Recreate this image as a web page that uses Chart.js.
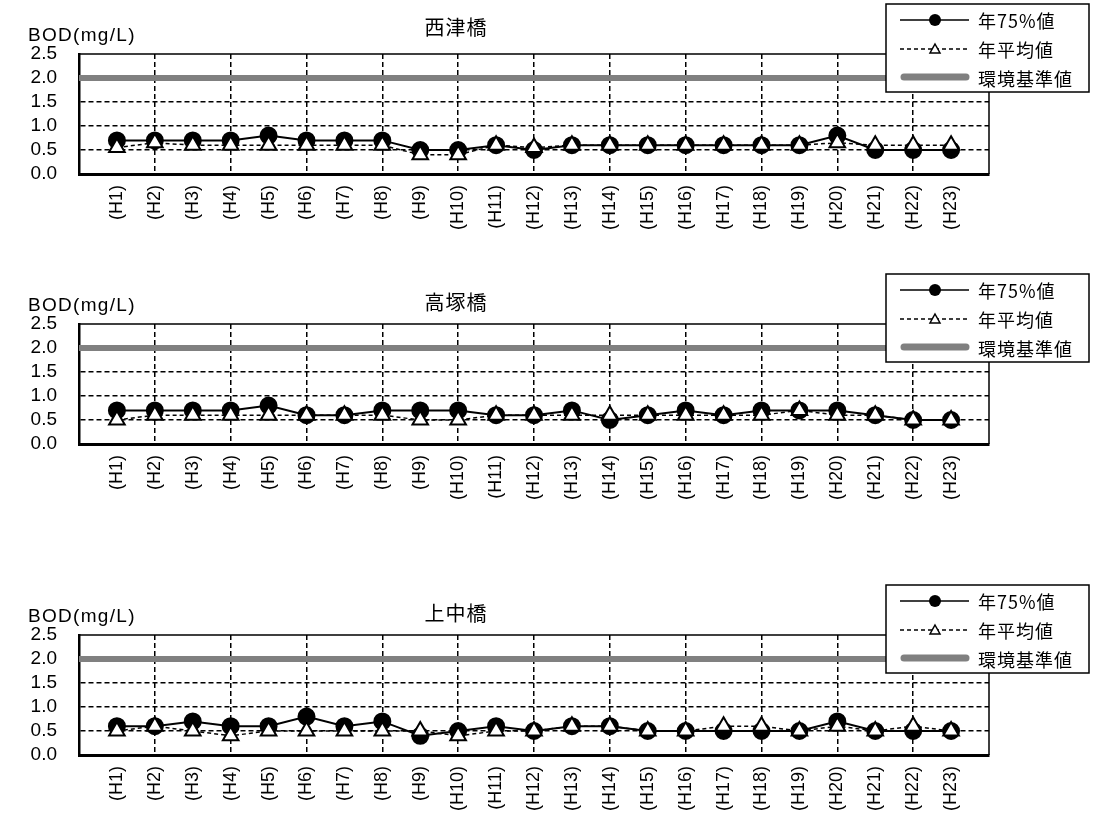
<!DOCTYPE html>
<html>
<head>
<meta charset="utf-8">
<script src="https://cdn.jsdelivr.net/npm/chart.js@4.4.0/dist/chart.umd.min.js"></script>
<style>
  body { margin: 0; background: #fff; }
  .box { position: absolute; left: 0; width: 1100px; height: 260px; }
</style>
</head>
<body>
<div class="box" style="top:0px"><canvas id="c1"></canvas></div>
<div class="box" style="top:270px"><canvas id="c2"></canvas></div>
<div class="box" style="top:581px"><canvas id="c3"></canvas></div>
<script>
// 年度 (H1〜H23)
const nendo = ['H1','H2','H3','H4','H5','H6','H7','H8','H9','H10','H11','H12',
               'H13','H14','H15','H16','H17','H18','H19','H20','H21','H22','H23']

// 西津橋
const nishizu75 = [0.7,0.7,0.7,0.7,0.8,0.7,0.7,0.7,0.5,0.5,0.6,0.5,0.6,0.6,0.6,0.6,0.6,0.6,0.6,0.8,0.5,0.5,0.5]
const nishizuAvg = [0.55,0.65,0.6,0.6,0.6,0.6,0.6,0.6,0.4,0.4,0.6,0.55,0.6,0.6,0.6,0.6,0.6,0.6,0.6,0.65,0.6,0.6,0.6]

// 高塚橋
const takatsuka75 = [0.7,0.7,0.7,0.7,0.8,0.6,0.6,0.7,0.7,0.7,0.6,0.6,0.7,0.5,0.6,0.7,0.6,0.7,0.7,0.7,0.6,0.5,0.5]
const takatsukaAvg = [0.5,0.6,0.6,0.6,0.6,0.6,0.6,0.6,0.5,0.5,0.6,0.6,0.6,0.6,0.6,0.6,0.6,0.6,0.7,0.6,0.6,0.5,0.5]

// 上中橋
const kaminaka75 = [0.6,0.6,0.7,0.6,0.6,0.8,0.6,0.7,0.4,0.5,0.6,0.5,0.6,0.6,0.5,0.5,0.5,0.5,0.5,0.7,0.5,0.5,0.5]
const kaminakaAvg = [0.5,0.6,0.5,0.4,0.5,0.5,0.5,0.5,0.5,0.4,0.5,0.5,0.6,0.6,0.5,0.5,0.6,0.6,0.5,0.6,0.5,0.6,0.5]

// 環境基準値
const kijun = 2.0

const yTicks = [0.0, 0.5, 1.0, 1.5, 2.0, 2.5]

const FONT_EN = "'Liberation Sans', Arial, sans-serif"
const FONT_JP = "'Noto Sans CJK JP', sans-serif"

//タイトル・軸ラベル・凡例を描く
const decor = {
    id: 'decor',
    afterDatasetsDraw(chart) {
        const { ctx, chartArea: a } = chart
        ctx.save()
        ctx.strokeStyle = '#000'
        ctx.lineWidth = 1.5
        ctx.beginPath()
        ctx.moveTo(a.left, a.top)
        ctx.lineTo(a.right, a.top)
        ctx.lineTo(a.right, a.bottom)
        ctx.stroke()
        ctx.restore()
    },
    afterDraw(chart, args, opts) {
        const ctx = chart.ctx
        ctx.save()
        ctx.fillStyle = '#000'
        ctx.textBaseline = 'middle'

        ctx.font = '20px ' + FONT_JP
        ctx.letterSpacing = '1px'
        ctx.textAlign = 'center'
        ctx.fillText(opts.title, 456, opts.titleY)

        ctx.font = '19px ' + FONT_EN
        ctx.letterSpacing = '1.3px'
        ctx.textAlign = 'left'
        ctx.fillText('BOD(mg/L)', 28, 36)

        // 凡例
        const lx = 886, ly = 4, lw = 203, lh = 88
        ctx.fillStyle = '#fff'
        ctx.fillRect(lx, ly, lw, lh)
        ctx.strokeStyle = '#000'
        ctx.lineWidth = 1.5
        ctx.strokeRect(lx, ly, lw, lh)

        const rows = [20, 49, 77]
        // 年75%値
        ctx.lineWidth = 1.5
        ctx.beginPath()
        ctx.moveTo(900, rows[0]); ctx.lineTo(969, rows[0])
        ctx.stroke()
        ctx.fillStyle = '#000'
        ctx.beginPath()
        ctx.arc(935, rows[0], 6, 0, Math.PI * 2)
        ctx.fill()
        // 年平均値
        ctx.setLineDash([4, 3])
        ctx.beginPath()
        ctx.moveTo(900, rows[1]); ctx.lineTo(969, rows[1])
        ctx.stroke()
        ctx.setLineDash([])
        ctx.fillStyle = '#fff'
        ctx.beginPath()
        ctx.moveTo(935, rows[1] - 5)
        ctx.lineTo(940, rows[1] + 4)
        ctx.lineTo(930, rows[1] + 4)
        ctx.closePath()
        ctx.fill()
        ctx.stroke()
        // 環境基準値
        ctx.strokeStyle = '#808080'
        ctx.lineWidth = 7
        ctx.lineCap = 'round'
        ctx.beginPath()
        ctx.moveTo(904, rows[2]); ctx.lineTo(966, rows[2])
        ctx.stroke()

        ctx.fillStyle = '#000'
        ctx.font = '18px ' + FONT_JP
        ctx.letterSpacing = '1px'
        ctx.textAlign = 'left'
        ctx.fillText('年75%値', 978, rows[0] + 1)
        ctx.fillText('年平均値', 978, rows[1] + 1)
        ctx.fillText('環境基準値', 978, rows[2] + 2)
        ctx.letterSpacing = '0px'
        ctx.restore()
    }
}

const toPoints = function (vals) {
    return vals.map((v, i) => ({ x: i + 1, y: v }))
}

//グラフを作る
const makeChart = function (id, title, titleY, v75, vAvg) {
    new Chart(document.getElementById(id), {
        type: 'line',
        data: {
            datasets: [{
                label: '年平均値',
                data: toPoints(vAvg),
                borderColor: '#000',
                borderWidth: 1.5,
                borderDash: [4, 3],
                pointStyle: 'triangle',
                pointRadius: 9,
                pointBackgroundColor: '#fff',
                pointBorderColor: '#000',
                pointBorderWidth: 2,
                order: 0
            }, {
                label: '年75%値',
                data: toPoints(v75),
                borderColor: '#000',
                borderWidth: 2,
                pointStyle: 'circle',
                pointRadius: 8,
                pointBackgroundColor: '#000',
                pointBorderColor: '#000',
                order: 1
            }, {
                label: '環境基準値',
                data: [{ x: 0, y: kijun }, { x: nendo.length + 1, y: kijun }],
                borderColor: '#808080',
                borderWidth: 6,
                pointRadius: 0,
                order: 2
            }]
        },
        options: {
            responsive: true,
            maintainAspectRatio: false,
            animation: false,
            events: [],
            layout: { padding: { top: 54, right: 111, left: 0, bottom: 0 } },
            plugins: {
                legend: { display: false },
                tooltip: { enabled: false },
                decor: { title: title, titleY: titleY }
            },
            scales: {
                x: {
                    type: 'linear',
                    min: 0,
                    max: nendo.length + 1,
                    afterBuildTicks: function (scale) {
                        scale.ticks = Array.from({ length: nendo.length + 2 }, (_, i) => ({ value: i }))
                    },
                    ticks: {
                        autoSkip: false,
                        maxRotation: 90,
                        minRotation: 90,
                        padding: 11,
                        color: '#000',
                        font: { size: 18, family: FONT_EN },
                        callback: function (v) {
                            return (v >= 1 && v <= nendo.length) ? '(' + nendo[v - 1] + ')' : ''
                        }
                    },
                    grid: {
                        drawTicks: false,
                        lineWidth: 1.5,
                        color: function (c) {
                            const v = c.tick ? c.tick.value : 0
                            return (v > 0 && v < nendo.length + 1 && v % 2 === 0) ? '#000' : 'rgba(0,0,0,0)'
                        }
                    },
                    border: { display: true, color: '#000', width: 3, dash: [5, 3] },
                    afterFit: function (scale) { scale.height = 86 }
                },
                y: {
                    min: 0,
                    max: 2.5,
                    afterBuildTicks: function (scale) {
                        scale.ticks = yTicks.map(v => ({ value: v }))
                    },
                    ticks: {
                        autoSkip: false,
                        padding: 22,
                        color: '#000',
                        font: { size: 19, family: FONT_EN },
                        callback: function (v) { return v.toFixed(1) }
                    },
                    grid: {
                        drawTicks: false,
                        lineWidth: 1.5,
                        color: function (c) {
                            const v = c.tick ? c.tick.value : 0
                            return (v > 0 && v < 2.5) ? '#000' : 'rgba(0,0,0,0)'
                        }
                    },
                    border: { display: true, color: '#000', width: 2.5, dash: [5, 3] },
                    afterFit: function (scale) { scale.width = 79 }
                }
            }
        },
        plugins: [decor]
    })
}

makeChart('c1', '西津橋', 27, nishizu75, nishizuAvg)
makeChart('c2', '高塚橋', 32, takatsuka75, takatsukaAvg)
makeChart('c3', '上中橋', 32, kaminaka75, kaminakaAvg)
</script>
</body>
</html>
